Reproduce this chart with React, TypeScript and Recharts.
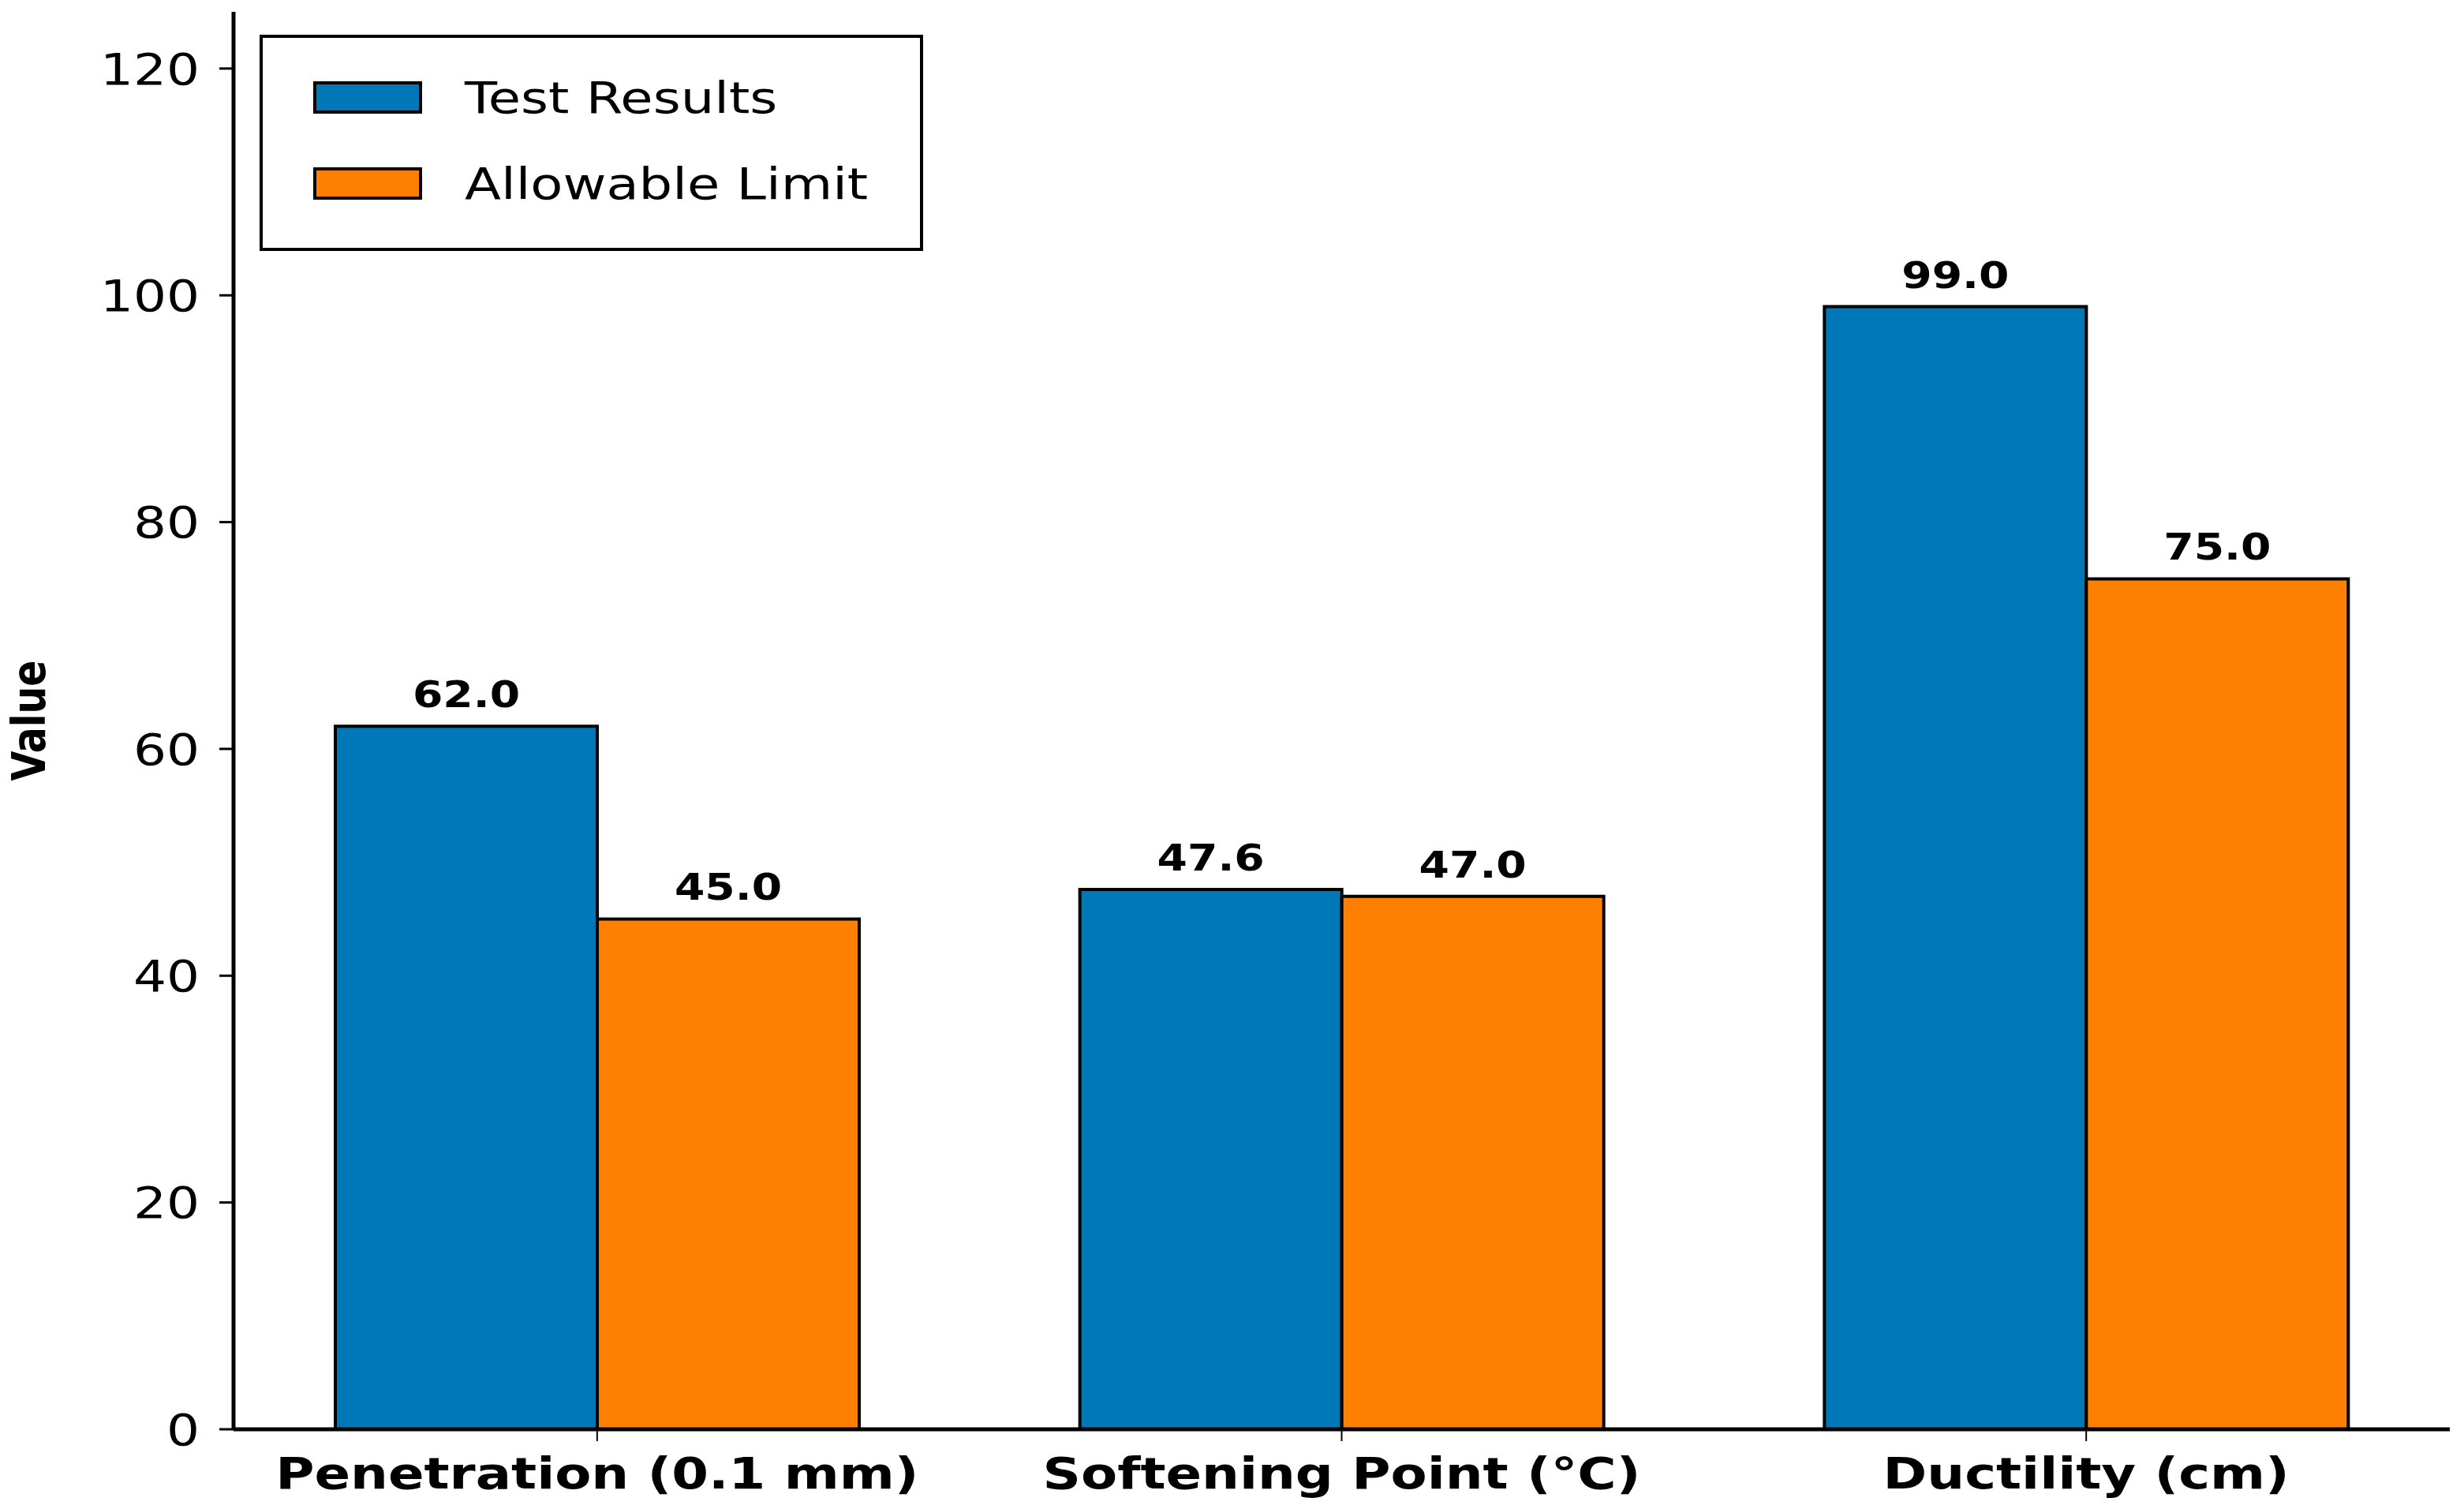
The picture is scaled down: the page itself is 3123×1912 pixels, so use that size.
import { Bar, BarChart, LabelList, Legend, XAxis, YAxis } from "recharts";

const categories = ["Penetration (0.1 mm)", "Softening Point (°C)", "Ductility (cm)"];
const testResults = [62.0, 47.6, 99.0];
const allowableLimit = [45.0, 47.0, 75.0];
const yTicks = [0, 20, 40, 60, 80, 100, 120];
const seriesNames = ["Test Results", "Allowable Limit"];

const colors = { test: "#0077b6", limit: "#ff8000" };
const font = "'DejaVu Sans', sans-serif";
// the reference text is a bit wider than plain DejaVu, stretch it horizontally
const stretch = 1.2;

const data = categories.map((name, i) => ({ name, test: testResults[i], limit: allowableLimit[i] }));

function LegendBox({ payload }: any) {
  // keep series order (recharts sorts legend items by name otherwise)
  const items = [...(payload || [])].sort((a: any, b: any) => seriesNames.indexOf(a.value) - seriesNames.indexOf(b.value));
  return (
    <div
      style={{
        width: 841,
        height: 274,
        border: "4px solid #000",
        boxSizing: "border-box",
        background: "#fff",
        fontFamily: font,
        fontSize: 56,
        color: "#000",
        position: "relative"
      }}
    >
      {items.map((item: any, i: number) => (
        <div key={item.value} style={{ position: "absolute", left: 64, top: 55 + i * 109, display: "flex", alignItems: "center" }}>
          <span style={{ display: "inline-block", width: 138, height: 41, boxSizing: "border-box", background: item.color, border: "4px solid #000" }} />
          <span style={{ marginLeft: 54, lineHeight: "41px", display: "inline-block", transform: `scaleX(${stretch})`, transformOrigin: "left center", whiteSpace: "nowrap" }}>
            {item.value}
          </span>
        </div>
      ))}
    </div>
  );
}

function ValueLabel(props: any) {
  const { viewBox } = props;
  const cy = viewBox.y + viewBox.height / 2;
  return (
    <text
      transform={`translate(37, ${cy}) scale(${stretch}, 1) rotate(-90)`}
      textAnchor="middle"
      dominantBaseline="central"
      fontFamily={font}
      fontWeight="bold"
      fontSize={49}
      fill="#000"
    >
      Value
    </text>
  );
}

function XTick({ x, y, payload }: any) {
  return (
    <text transform={`translate(${x}, ${y + 60}) scale(${stretch}, 1)`} textAnchor="middle" fontFamily={font} fontWeight="bold" fontSize={56} fill="#000">
      {payload.value}
    </text>
  );
}

function YTick({ x, y, payload }: any) {
  return (
    <text transform={`translate(${x}, ${y}) scale(${stretch}, 1)`} dy="0.36em" textAnchor="end" fontFamily={font} fontSize={55} fill="#000">
      {payload.value}
    </text>
  );
}

function BarValue({ x, y, width, value }: any) {
  return (
    <text transform={`translate(${x + width / 2}, ${y - 24}) scale(${stretch}, 1)`} textAnchor="middle" fontFamily={font} fontWeight="bold" fontSize={46} fill="#000">
      {Number(value).toFixed(1)}
    </text>
  );
}

export default function App() {
  return (
    <div style={{ width: 3123, height: 1912, background: "#fff" }}>
      <style>{"body{margin:0}"}</style>
      <BarChart width={3123} height={1912} data={data} margin={{ top: 15, right: 18, left: 0, bottom: 0 }} barGap={0} barSize={332}>
        <XAxis
          dataKey="name"
          height={101}
          padding={{ left: -11, right: -11 }}
          axisLine={{ stroke: "#000", strokeWidth: 5 }}
          tickLine={{ stroke: "#000", strokeWidth: 2 }}
          tickSize={15}
          tickMargin={0}
          tick={<XTick />}
        />
        <YAxis
          width={296}
          domain={[0, 125]}
          ticks={yTicks}
          allowDataOverflow
          axisLine={{ stroke: "#000", strokeWidth: 5 }}
          tickLine={{ stroke: "#000", strokeWidth: 3 }}
          tickSize={18}
          tickMargin={25}
          tick={<YTick />}
          label={{ content: ValueLabel }}
        />
        <Legend
          layout="horizontal"
          verticalAlign="middle"
          align="center"
          content={LegendBox}
          wrapperStyle={{ position: "absolute", left: 329, top: 44, width: 841, height: 274 }}
        />
        <Bar dataKey="test" name="Test Results" fill={colors.test} stroke="#000" strokeWidth={4} isAnimationActive={false}>
          <LabelList dataKey="test" content={<BarValue />} />
        </Bar>
        <Bar dataKey="limit" name="Allowable Limit" fill={colors.limit} stroke="#000" strokeWidth={4} isAnimationActive={false}>
          <LabelList dataKey="limit" content={<BarValue />} />
        </Bar>
      </BarChart>
    </div>
  );
}
